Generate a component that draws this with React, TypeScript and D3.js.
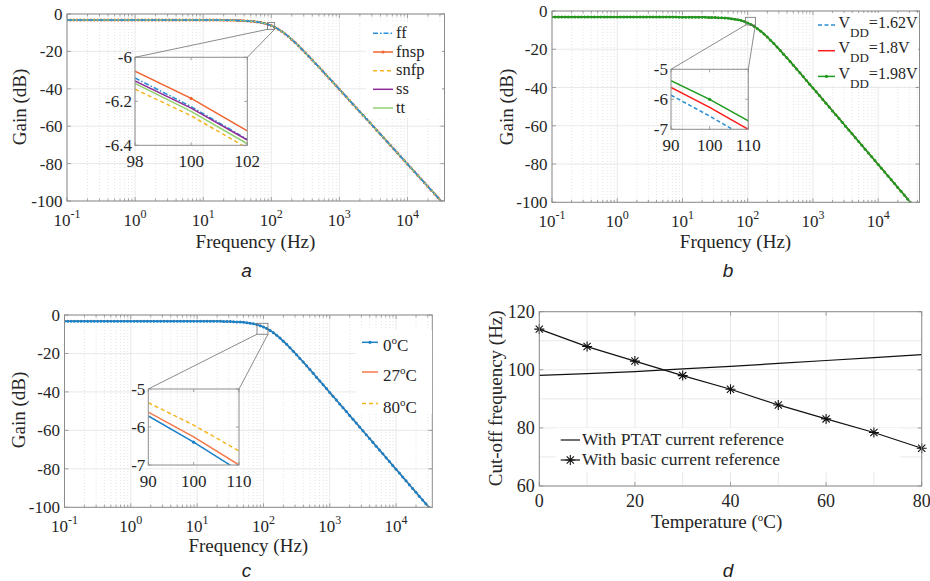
import * as React from "react";
import * as d3 from "d3";

// simulated Bode sweep, 20 points per decade
const decadeStarts = [0.1, 1, 10, 100, 1000, 10000];
const mantissas = [
  1, 1.122, 1.259, 1.413, 1.585, 1.778, 1.995, 2.239, 2.512, 2.818,
  3.162, 3.548, 3.981, 4.467, 5.012, 5.623, 6.31, 7.079, 7.943, 8.913,
];
const gainDb = [
  -3.2, -3.2, -3.2, -3.2, -3.2, -3.2, -3.2, -3.2, -3.2, -3.2,
  -3.2, -3.2, -3.2, -3.2, -3.2, -3.2, -3.2, -3.2, -3.2, -3.2,
  -3.2, -3.2, -3.2, -3.2, -3.2, -3.2, -3.2, -3.2, -3.2, -3.2,
  -3.2, -3.2, -3.2, -3.2, -3.2, -3.2, -3.2, -3.2, -3.2, -3.21,
  -3.22, -3.23, -3.23, -3.24, -3.26, -3.27, -3.29, -3.31, -3.34, -3.38,
  -3.43, -3.5, -3.58, -3.69, -3.83, -4.02, -4.27, -4.59, -5.0, -5.54,
  -6.21, -7.05, -8.05, -9.22, -10.54, -12.01, -13.59, -15.27, -17.03, -18.84,
  -20.7, -22.59, -24.5, -26.44, -28.39, -30.35, -32.32, -34.3, -36.28, -38.26,
  -40.25, -42.24, -44.23, -46.23, -48.22, -50.22, -52.21, -54.21, -56.21, -58.21,
  -60.21, -62.21, -64.21, -66.21, -68.21, -70.21, -72.21, -74.21, -76.21, -78.21,
  -80.21, -82.21, -84.21, -86.21, -88.21, -90.21, -92.21, -94.21, -96.21, -98.21,
  -100.21, -102.21,
];
const freqHz = decadeStarts
  .flatMap((d) => mantissas.map((m) => d * m))
  .slice(0, gainDb.length);

// (a) process corners, zoom 98..102 Hz
const corners = ["ff", "fnsp", "snfp", "ss", "tt"];
const cornerZoomHz = [98, 100, 102];
const ffZoomDb = [-6.094, -6.224, -6.373];
const fnspZoomDb = [-6.063, -6.187, -6.334];
const snfpZoomDb = [-6.145, -6.266, -6.413];
const ssZoomDb = [-6.107, -6.231, -6.376];
const ttZoomDb = [-6.119, -6.246, -6.393];

// (b) supply, zoom 90..110 Hz
const supplies = ["1.62V", "1.8V", "1.98V"];
const supplyZoomHz = [90, 100, 110];
const vdd162ZoomDb = [-5.86, -6.56, -7.31];
const vdd180ZoomDb = [-5.6, -6.27, -7.0];
const vdd198ZoomDb = [-5.38, -6.0, -6.72];

// (c) temperature, zoom 90..110 Hz
const tempsC = [0, 27, 80];
const tempZoomHz = [90, 100, 110];
const t0ZoomDb = [-5.71, -6.4, -7.15];
const t27ZoomDb = [-5.61, -6.26, -7.0];
const t80ZoomDb = [-5.36, -5.95, -6.63];

// (d) cut-off frequency vs temperature
const sweepC = [0, 10, 20, 30, 40, 50, 60, 70, 80];
const ptatHz = [98.1, 98.7, 99.4, 100.3, 101.2, 102.2, 103.2, 104.2, 105.2];
const basicHz = [114.0, 108.0, 103.0, 98.0, 93.3, 87.9, 83.1, 78.4, 73.0];
const dLegend = ["With PTAT current reference", "With basic current reference"];

const SERIF = "'Liberation Serif', 'Times New Roman', serif";
const SANS = "'Liberation Sans', Arial, sans-serif";
const AX = "#8c8c8c";
const TXT = "#262626";
const GRID = "#e6e6e6";
const MINOR = "#dedede";

const sup = (t: string) => (
  <>
    <tspan dy={-7} fontSize={11}>o</tspan>
    <tspan dy={7}>{t}</tspan>
  </>
);

const vdd = (v: string) => (
  <>
    V<tspan dy={9} fontSize={13}>DD</tspan>
    <tspan dy={-9}>={v}</tspan>
  </>
);

const panelA = {
  id: "a",
  box: { x0: 67, x1: 444.5, y0: 14, y1: 201 },
  xMax: 3.5e4,
  series: [
    { color: "#2a8fd4", dash: "5,2,1.5,2", zoom: ffZoomDb, label: corners[0] },
    { color: "#f0642f", dot: true, zoom: fnspZoomDb, label: corners[1] },
    { color: "#f5b51f", dash: "4,3", zoom: snfpZoomDb, label: corners[2] },
    { color: "#8e2c97", zoom: ssZoomDb, label: corners[3] },
    { color: "#93d070", zoom: ttZoomDb, label: corners[4] },
  ],
  drawOrder: [1, 2, 3, 4, 0],
  inset: {
    box: { x0: 135, x1: 247.3, y0: 57.3, y1: 145.3 },
    xs: cornerZoomHz,
    xd: [98, 102],
    yd: [-6.4, -6],
    xTicks: [98, 100, 102],
    yTicks: [-6, -6.2, -6.4],
  },
  square: { f: [88, 112], g: [-4.6, -8.2] },
  legend: { lx0: 373, lx1: 393, tx: 396, rows: [33.3, 52, 70.7, 89.3, 108], dy: 4.5, size: 16.5, bg: [366, 22, 76, 96] },
  xLabel: { text: "Frequency (Hz)", x: 255.5, y: 248 },
  yLabel: { x: 26, y: 107 },
  caption: { text: "a", x: 246.5, y: 277 },
};

const panelB = {
  id: "b",
  box: { x0: 552, x1: 919.5, y0: 11, y1: 202.3 },
  xMax: 4.3e4,
  series: [
    { color: "#2a8fd4", dash: "4,2.5", zoom: vdd162ZoomDb, label: vdd(supplies[0]) },
    { color: "#ff1a1a", zoom: vdd180ZoomDb, label: vdd(supplies[1]) },
    { color: "#1e9a1e", dot: true, zoom: vdd198ZoomDb, label: vdd(supplies[2]) },
  ],
  drawOrder: [0, 1, 2],
  inset: {
    box: { x0: 671, x1: 748.3, y0: 69.3, y1: 129.3 },
    xs: supplyZoomHz,
    xd: [90, 110],
    yd: [-7, -5],
    xTicks: [90, 100, 110],
    yTicks: [-5, -6, -7],
  },
  square: { f: [93, 131], g: [-3.3, -7.3] },
  legend: { lx0: 818, lx1: 835, tx: 838.5, rows: [25, 50.7, 76.4], dy: 2.5, size: 16, bg: [814, 13, 104, 73] },
  xLabel: { text: "Frquency (Hz)", x: 735.5, y: 248 },
  yLabel: { x: 513, y: 107 },
  caption: { text: "b", x: 728, y: 277 },
};

const panelC = {
  id: "c",
  box: { x0: 64.5, x1: 432.3, y0: 315, y1: 507.3 },
  xMax: 3.52e4,
  series: [
    { color: "#1a80c8", dot: true, zoom: t0ZoomDb, label: <>{tempsC[0]}{sup("C")}</> },
    { color: "#f47a4a", zoom: t27ZoomDb, label: <>{tempsC[1]}{sup("C")}</> },
    { color: "#f5b51f", dash: "4,3", zoom: t80ZoomDb, label: <>{tempsC[2]}{sup("C")}</> },
  ],
  drawOrder: [2, 1, 0],
  inset: {
    box: { x0: 148.3, x1: 239, y0: 389, y1: 465 },
    xs: tempZoomHz,
    xd: [90, 110],
    yd: [-7, -5],
    xTicks: [90, 100, 110],
    yTicks: [-5, -6, -7],
  },
  square: { f: [80, 117], g: [-4.3, -10] },
  legend: { lx0: 362, lx1: 378, tx: 383, rows: [342.3, 372, 403.5], dy: 9, size: 17, bg: [356, 330, 76, 84] },
  xLabel: { text: "Frequency (Hz)", x: 248.3, y: 551.7 },
  yLabel: { x: 24.5, y: 410 },
  caption: { text: "c", x: 246.5, y: 577 },
};

function LogPanel({ c }: { c: any }) {
  const { box } = c;
  const x = d3.scaleLog().domain([0.1, c.xMax]).range([box.x0, box.x1]);
  const y = d3.scaleLinear().domain([-100, 0]).range([box.y1, box.y0]);
  const isMajor = (t: number) =>
    Math.abs(Math.log10(t) - Math.round(Math.log10(t))) < 1e-6;
  const allTicks = x.ticks().filter((t) => t >= 0.0999 && t <= c.xMax);
  const majors = allTicks.filter(isMajor);
  const minors = allTicks.filter((t) => !isMajor(t));
  const yTicks = y.ticks(5);

  const pts: [number, number][] = freqHz.map((f, i) => [f, gainDb[i]]);
  const line = d3
    .line<[number, number]>()
    .x((d) => x(d[0]))
    .y((d) => y(d[1]));

  const ib = c.inset.box;
  const xi = d3.scaleLinear().domain(c.inset.xd).range([ib.x0, ib.x1]);
  const yi = d3.scaleLinear().domain(c.inset.yd).range([ib.y1, ib.y0]);
  const lineI = d3
    .line<[number, number]>()
    .x((d) => xi(d[0]))
    .y((d) => yi(d[1]));

  const sq = {
    x0: x(c.square.f[0]),
    x1: x(c.square.f[1]),
    y0: y(c.square.g[0]),
    y1: y(c.square.g[1]),
  };
  const lg = c.legend;

  return (
    <g>
      <defs>
        <clipPath id={`clip-${c.id}`}>
          <rect x={box.x0} y={box.y0} width={box.x1 - box.x0} height={box.y1 - box.y0} />
        </clipPath>
        <clipPath id={`clipi-${c.id}`}>
          <rect x={ib.x0} y={ib.y0} width={ib.x1 - ib.x0} height={ib.y1 - ib.y0} />
        </clipPath>
      </defs>

      {minors.map((t) => (
        <line key={`m${t}`} x1={x(t)} x2={x(t)} y1={box.y0} y2={box.y1}
          stroke={MINOR} strokeWidth={0.8} strokeDasharray="1,2" />
      ))}
      {majors.map((t) => (
        <line key={`M${t}`} x1={x(t)} x2={x(t)} y1={box.y0} y2={box.y1} stroke={GRID} strokeWidth={0.9} />
      ))}
      {yTicks.map((t) => (
        <line key={`y${t}`} x1={box.x0} x2={box.x1} y1={y(t)} y2={y(t)} stroke={GRID} strokeWidth={0.9} />
      ))}

      <g clipPath={`url(#clip-${c.id})`}>
        {c.drawOrder.map((k: number) => {
          const s = c.series[k];
          return (
            <g key={k}>
              <path d={line(pts) ?? ""} fill="none" stroke={s.color} strokeWidth={1.5}
                strokeDasharray={s.dash} />
              {s.dot &&
                pts.map((p, i) => (
                  <circle key={i} cx={x(p[0])} cy={y(p[1])} r={1.5} fill={s.color} />
                ))}
            </g>
          );
        })}
      </g>

      {/* axis box and ticks */}
      <rect x={box.x0} y={box.y0} width={box.x1 - box.x0} height={box.y1 - box.y0}
        fill="none" stroke={AX} strokeWidth={1} />
      {allTicks.map((t) => {
        const len = isMajor(t) ? 4 : 2.5;
        return (
          <g key={`t${t}`} stroke={AX} strokeWidth={0.8}>
            <line x1={x(t)} x2={x(t)} y1={box.y1} y2={box.y1 - len} />
            <line x1={x(t)} x2={x(t)} y1={box.y0} y2={box.y0 + len} />
          </g>
        );
      })}
      {yTicks.map((t) => (
        <g key={`yt${t}`} stroke={AX} strokeWidth={0.8}>
          <line x1={box.x0} x2={box.x0 + 4} y1={y(t)} y2={y(t)} />
          <line x1={box.x1} x2={box.x1 - 4} y1={y(t)} y2={y(t)} />
        </g>
      ))}
      <g fill={TXT} fontSize={17}>
        {yTicks.map((t) => (
          <text key={`yl${t}`} x={box.x0 - 4.5} y={y(t) + 6} textAnchor="end">
            {String(t)}
          </text>
        ))}
        {majors.map((t) => (
          <text key={`xl${t}`} x={x(t)} y={box.y1 + 25} textAnchor="middle">
            10<tspan dy={-8} fontSize={12}>{String(Math.round(Math.log10(t)))}</tspan>
          </text>
        ))}
      </g>

      {/* zoom marker and inset */}
      <g stroke="#6e6e6e" strokeWidth={0.8} fill="none">
        <rect x={sq.x0} y={sq.y0} width={sq.x1 - sq.x0} height={sq.y1 - sq.y0} />
        <line x1={ib.x0} y1={ib.y0} x2={sq.x0} y2={sq.y1} />
        <line x1={ib.x1} y1={ib.y0} x2={sq.x1} y2={sq.y1} />
      </g>
      <g clipPath={`url(#clipi-${c.id})`}>
        {c.series.map((s: any, k: number) => {
          const ip: [number, number][] = c.inset.xs.map((f: number, i: number) => [f, s.zoom[i]]);
          return (
            <g key={k}>
              <path d={lineI(ip) ?? ""} fill="none" stroke={s.color} strokeWidth={1.5}
                strokeDasharray={s.dash} />
              {s.dot &&
                ip
                  .filter((p) => p[0] > c.inset.xd[0] && p[0] < c.inset.xd[1])
                  .map((p, i) => (
                    <circle key={i} cx={xi(p[0])} cy={yi(p[1])} r={1.6} fill={s.color} />
                  ))}
            </g>
          );
        })}
      </g>
      <rect x={ib.x0} y={ib.y0} width={ib.x1 - ib.x0} height={ib.y1 - ib.y0}
        fill="none" stroke={AX} strokeWidth={1} />
      {c.inset.xTicks.map((t: number) => (
        <g key={`ix${t}`}>
          <line x1={xi(t)} x2={xi(t)} y1={ib.y1} y2={ib.y1 - 3} stroke={AX} strokeWidth={0.8} />
          <line x1={xi(t)} x2={xi(t)} y1={ib.y0} y2={ib.y0 + 3} stroke={AX} strokeWidth={0.8} />
          <text x={xi(t)} y={ib.y1 + 21.5} textAnchor="middle" fontSize={17} fill={TXT}>
            {String(t)}
          </text>
        </g>
      ))}
      {c.inset.yTicks.map((t: number) => (
        <g key={`iy${t}`}>
          <line x1={ib.x0} x2={ib.x0 + 3} y1={yi(t)} y2={yi(t)} stroke={AX} strokeWidth={0.8} />
          <line x1={ib.x1} x2={ib.x1 - 3} y1={yi(t)} y2={yi(t)} stroke={AX} strokeWidth={0.8} />
          <text x={ib.x0 - 3} y={yi(t) + 5.5} textAnchor="end" fontSize={17} fill={TXT}>
            {String(t)}
          </text>
        </g>
      ))}

      {/* legend */}
      <rect x={lg.bg[0]} y={lg.bg[1]} width={lg.bg[2]} height={lg.bg[3]} fill="#fff" />
      {c.series.map((s: any, k: number) => (
        <g key={`lg${k}`}>
          <line x1={lg.lx0} x2={lg.lx1} y1={lg.rows[k]} y2={lg.rows[k]} stroke={s.color}
            strokeWidth={1.5} strokeDasharray={s.dash} />
          {s.dot && <circle cx={(lg.lx0 + lg.lx1) / 2} cy={lg.rows[k]} r={1.6} fill={s.color} />}
          <text x={lg.tx} y={lg.rows[k] + lg.dy} fontSize={lg.size} fill={TXT}>
            {s.label}
          </text>
        </g>
      ))}

      <text x={c.xLabel.x} y={c.xLabel.y} textAnchor="middle" fontSize={19} fill={TXT}>
        {c.xLabel.text}
      </text>
      <text transform={`translate(${c.yLabel.x},${c.yLabel.y}) rotate(-90)`} textAnchor="middle"
        fontSize={19} fill={TXT}>
        Gain (dB)
      </text>
      <text x={c.caption.x} y={c.caption.y} textAnchor="middle" fontFamily={SANS}
        fontStyle="italic" fontSize={19} fill="#222">
        {c.caption.text}
      </text>
    </g>
  );
}

function asterisk(cx: number, cy: number, r: number) {
  const p = d3.path();
  const q = r * 0.72;
  p.moveTo(cx - r, cy); p.lineTo(cx + r, cy);
  p.moveTo(cx, cy - r); p.lineTo(cx, cy + r);
  p.moveTo(cx - q, cy - q); p.lineTo(cx + q, cy + q);
  p.moveTo(cx - q, cy + q); p.lineTo(cx + q, cy - q);
  return p.toString();
}

function TempPanel() {
  const box = { x0: 539.3, x1: 921.7, y0: 311.7, y1: 486 };
  const x = d3.scaleLinear().domain([0, 80]).range([box.x0, box.x1]);
  const y = d3.scaleLinear().domain([60, 120]).range([box.y1, box.y0]);
  const xGrid = d3.range(0, 81, 10);
  const yGrid = d3.range(60, 121, 10);
  const xLab = d3.range(0, 81, 20);
  const yLab = d3.range(60, 121, 20);
  const line = d3
    .line<number>()
    .x((_, i) => x(sweepC[i]))
    .y((d) => y(d));
  const rows = [440, 460];

  return (
    <g>
      {xGrid.map((t) => (
        <line key={`gx${t}`} x1={x(t)} x2={x(t)} y1={box.y0} y2={box.y1} stroke={GRID} strokeWidth={0.9} />
      ))}
      {yGrid.map((t) => (
        <line key={`gy${t}`} x1={box.x0} x2={box.x1} y1={y(t)} y2={y(t)} stroke={GRID} strokeWidth={0.9} />
      ))}
      <rect x={556} y={428} width={344} height={44} fill="#fff" />
      <path d={line(ptatHz) ?? ""} fill="none" stroke="#111" strokeWidth={1.2} />
      <path d={line(basicHz) ?? ""} fill="none" stroke="#111" strokeWidth={1.2} />
      {basicHz.map((v, i) => (
        <path key={i} d={asterisk(x(sweepC[i]), y(v), 5)} stroke="#111" strokeWidth={1.1} fill="none" />
      ))}
      <rect x={box.x0} y={box.y0} width={box.x1 - box.x0} height={box.y1 - box.y0}
        fill="none" stroke={AX} strokeWidth={1} />
      {xLab.map((t) => (
        <g key={`xl${t}`}>
          <line x1={x(t)} x2={x(t)} y1={box.y1} y2={box.y1 - 4} stroke={AX} strokeWidth={0.8} />
          <line x1={x(t)} x2={x(t)} y1={box.y0} y2={box.y0 + 4} stroke={AX} strokeWidth={0.8} />
          <text x={x(t)} y={box.y1 + 20.7} textAnchor="middle" fontSize={18} fill={TXT}>
            {String(t)}
          </text>
        </g>
      ))}
      {yLab.map((t) => (
        <g key={`yl${t}`}>
          <line x1={box.x0} x2={box.x0 + 4} y1={y(t)} y2={y(t)} stroke={AX} strokeWidth={0.8} />
          <line x1={box.x1} x2={box.x1 - 4} y1={y(t)} y2={y(t)} stroke={AX} strokeWidth={0.8} />
          <text x={box.x0 - 4.5} y={y(t) + 6} textAnchor="end" fontSize={18} fill={TXT}>
            {String(t)}
          </text>
        </g>
      ))}

      {dLegend.map((name, k) => (
        <g key={name}>
          <line x1={560.7} x2={580} y1={rows[k]} y2={rows[k]} stroke="#111" strokeWidth={1.2} />
          {k === 1 && <path d={asterisk(570.3, rows[k], 5)} stroke="#111" strokeWidth={1.1} fill="none" />}
          <text x={582} y={rows[k] + 5} fontSize={17.5} fill={TXT}>
            {name}
          </text>
        </g>
      ))}

      <text x={716.7} y={528.3} textAnchor="middle" fontSize={19} fill={TXT}>
        Temperature ({sup("C)")}
      </text>
      <text transform="translate(502,398.3) rotate(-90)" textAnchor="middle" fontSize={19} fill={TXT}>
        Cut-off frequency (Hz)
      </text>
      <text x={728} y={577} textAnchor="middle" fontFamily={SANS} fontStyle="italic" fontSize={19} fill="#222">
        d
      </text>
    </g>
  );
}

export default function App() {
  return (
    <svg width={930} height={581} fontFamily={SERIF}
      style={{ position: "absolute", left: 0, top: 0, background: "#fff" }}>
      <LogPanel c={panelA} />
      <LogPanel c={panelB} />
      <LogPanel c={panelC} />
      <TempPanel />
    </svg>
  );
}
